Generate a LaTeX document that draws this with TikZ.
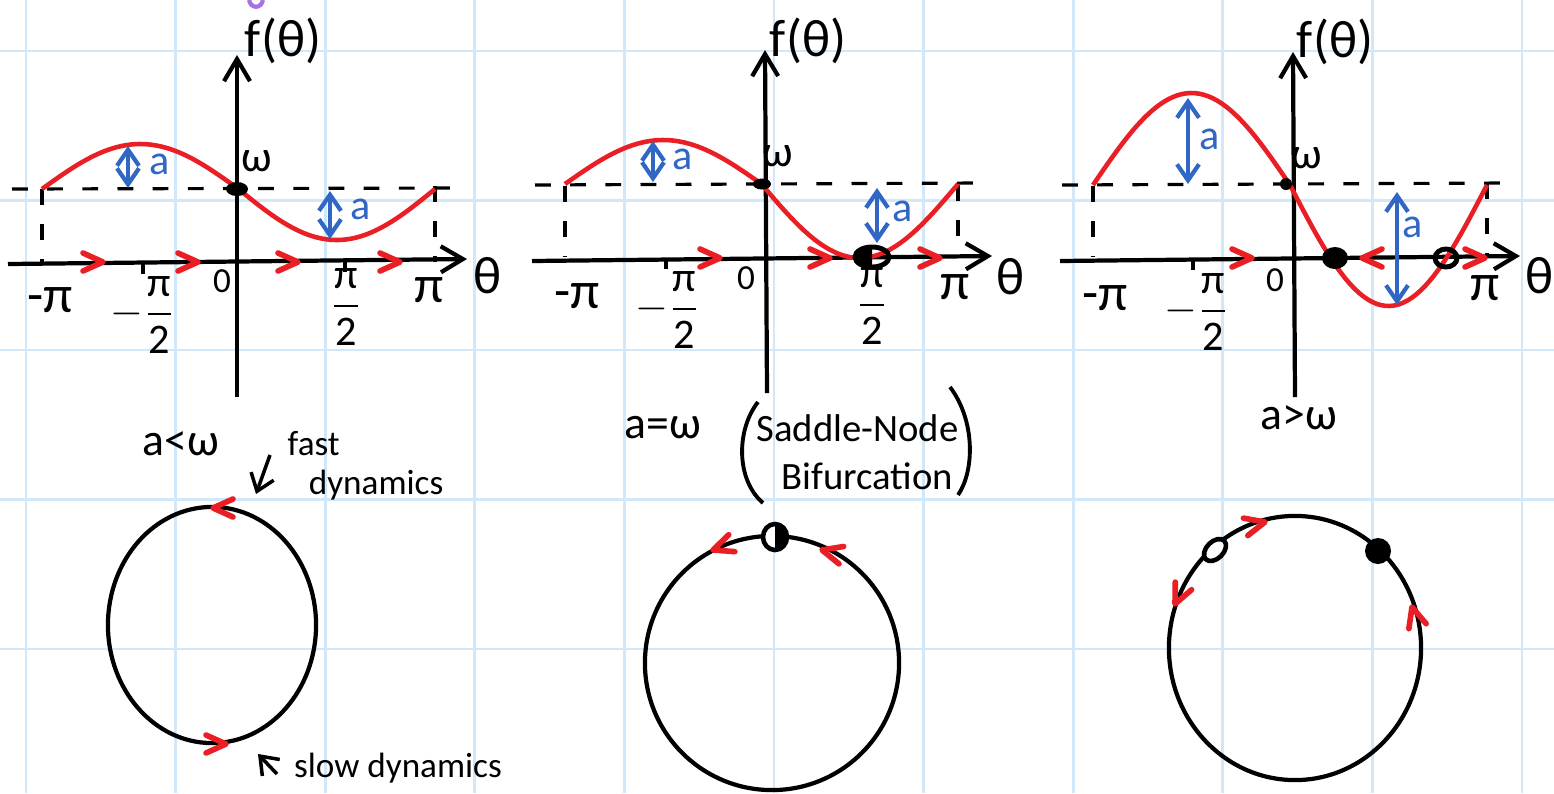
\documentclass[tikz,border=0pt]{standalone}
\usepackage{amsmath}
\usepackage{fontspec}
\setmainfont{Carlito}
\usetikzlibrary{arrows.meta}

\definecolor{inkred}{RGB}{234,30,37}
\definecolor{inkblue}{RGB}{48,102,196}
\definecolor{gridblue}{RGB}{208,232,250}
\definecolor{inkpurple}{RGB}{168,112,228}

\tikzset{
  chev/.pic={\draw[inkred, line width=1.6pt, line cap=round, line join=round]
    (-20,-9) -- (0,0) -- (-20,9);}
}

\begin{document}
\begin{tikzpicture}[x=0.01cm, y=-0.01cm,
    ax/.style={line width=1.2pt, -{Straight Barb[length=2.2mm, width=2.6mm]}},
    guide/.style={line width=0.9pt, dash pattern=on 4.5pt off 5.5pt},
    fcurve/.style={inkred, line width=1.3pt, line join=round},
    amp/.style={inkblue, line width=1.2pt,
      {Straight Barb[length=1.6mm, width=2.2mm]}-{Straight Barb[length=1.6mm, width=2.2mm]}},
    ampl/.style={inkblue, font=\fontsize{12}{13}\selectfont, inner sep=0pt},
    lbl/.style={font=\fontsize{15}{17}\selectfont, inner sep=0pt},
    frac/.style={font=\fontsize{12}{13}\selectfont, inner sep=0pt},
    small/.style={font=\fontsize{10}{11}\selectfont, inner sep=0pt},
    omg/.style={font=\fontsize{12.5}{13}\selectfont, inner sep=0pt},
    hand/.style={font=\fontsize{13}{15}\selectfont, inner sep=0pt},
    tick/.style={line width=1pt},
    ring/.style={line width=1.2pt},
    note/.style={line width=1pt, -{Straight Barb[length=1.6mm, width=2.4mm]}}]
  \useasboundingbox (0,0) rectangle (1554,793);
  % grid paper
  \begin{scope}
    \clip (0,0) rectangle (1554,793);
    \foreach \gx in {0,...,10}
      \draw[gridblue, line width=0.8pt] ({26+149.6*\gx},0) -- ({26+149.6*\gx},793);
    \foreach \gy in {0,...,4}
      \draw[gridblue, line width=0.8pt] (0,{51+149.5*\gy}) -- (1554,{51+149.5*\gy});
  \end{scope}
  \draw[inkpurple, line width=1.2pt] (249,0) .. controls (251,9) and (261,9) .. (263,0);

  % panel 1: a < w
  \draw[guide] (12,189) -- (453,188);
  \draw[guide] (42,189) -- (42,262);
  \draw[guide] (435,186) -- (435,262);
  \draw[ax] (8,264) -- (467,259);
  \draw[ax] (237,397) -- (237,55);
  \draw[tick] (143,264) -- (143,274);
  \draw[tick] (345,262) -- (345,272);
  \draw[fcurve] plot[domain=-180:180, samples=90]
    ({238.5+\x/180*196.5}, {189+(\x<0?45:51)*sin(\x)});
  \fill (237,189) ellipse[x radius=0.11cm, y radius=0.07cm];
  \draw[amp] (128,146) -- (128,188);
  \draw[amp] (330,191) -- (330,239);
  \node[ampl] (a1u) at (160,164) {a};
  \node[ampl] (a1d) at (361,209) {a};
  \foreach \cx in {103,198,298,400} \pic at (\cx,262) {chev};
  \node[lbl] (f1) at (283,41) {f(θ)};
  \node[omg] (w1) at (257,161) {ω};
  \node[lbl] (th1) at (488,276) {θ};
  \node[lbl] (mpi1) at (50,300) {-π};
  \node[frac] (mhp1) at (143,315) {$-\dfrac{\text{π}}{\text{2}}$};
  \node[small] (o1) at (222,281) {0};
  \node[frac] (hp1) at (346,307) {$\dfrac{\text{π}}{\text{2}}$};
  \node[lbl] (pi1) at (429,290) {π};

  % panel 2: a = w
  \draw[guide] (535,185) -- (978,183);
  \draw[guide] (565,186) -- (565,257);
  \draw[guide] (958,185) -- (958,257);
  \draw[ax] (532,261) -- (992,256);
  \draw[ax] (767,393) -- (765,50);
  \draw[tick] (666,259) -- (666,269);
  \draw[fcurve] plot[domain=-180:180, samples=90]
    ({761.5+\x/180*196.5}, {184+(\x<0?44:74)*sin(\x)});
  \fill (762,184) ellipse[x radius=0.09cm, y radius=0.055cm];
  \fill (872,247) arc[start angle=90, end angle=270, x radius=0.17cm, y radius=0.10cm] -- cycle;
  \draw[line width=1.4pt] (872,257) ellipse[x radius=0.17cm, y radius=0.10cm];
  \draw[amp] (653,141) -- (653,182);
  \draw[amp] (877,188) -- (877,243);
  \node[ampl] (a2u) at (683,159) {a};
  \node[ampl] (a2d) at (903,211) {a};
  \foreach \cx in {720,830,940} \pic at (\cx,258) {chev};
  \node[lbl] (f2) at (808,41) {f(θ)};
  \node[omg] (w2) at (778,156) {ω};
  \node[lbl] (th2) at (1011,277) {θ};
  \node[lbl] (mpi2) at (577,296) {-π};
  \node[frac] (mhp2) at (668,310) {$-\dfrac{\text{π}}{\text{2}}$};
  \node[small] (o2) at (746,278) {0};
  \node[frac] (hp2) at (872,306) {$\dfrac{\text{π}}{\text{2}}$};
  \node[lbl] (pi2) at (955,287) {π};

  % panel 3: a > w
  \draw[guide] (1062,185) -- (1505,183);
  \draw[guide] (1093,186) -- (1093,257);
  \draw[guide] (1487,183) -- (1487,257);
  \draw[ax] (1060,261) -- (1520,256);
  \draw[ax] (1295,397) -- (1293,52);
  \draw[tick] (1193,260) -- (1193,270);
  \draw[tick] (1397,258) -- (1397,268);
  \draw[fcurve] plot[domain=-180:180, samples=90]
    ({1290+\x/180*197}, {185+(\x<0?92:121)*sin(\x)});
  \fill (1286,184) circle[radius=0.06cm];
  \fill (1335,258) ellipse[x radius=0.13cm, y radius=0.11cm];
  \draw[line width=1.4pt] (1446,258) ellipse[x radius=0.11cm, y radius=0.09cm];
  \draw[amp] (1188,98) -- (1188,184);
  \draw[amp] (1397,192) -- (1397,305);
  \node[ampl] (a3u) at (1210,139) {a};
  \node[ampl] (a3d) at (1413,227) {a};
  \pic at (1252,258) {chev};
  \pic[rotate=180] at (1362,258) {chev};
  \pic at (1485,258) {chev};
  \node[lbl] (f3) at (1335,42) {f(θ)};
  \node[omg] (w3) at (1307,158) {ω};
  \node[lbl] (th3) at (1540,276) {θ};
  \node[lbl] (mpi3) at (1105,298) {-π};
  \node[frac] (mhp3) at (1197,312) {$-\dfrac{\text{π}}{\text{2}}$};
  \node[small] (o3) at (1275,280) {0};
  \node[lbl] (pi3) at (1485,288) {π};

  % phase circles
  \node[hand] (lt) at (181,444) {a<ω};
  \node[small, align=left, anchor=north west] (fast) at (287,431) {fast\\\hspace{6pt}dynamics};
  \coordinate (fastfrom) at (270,455);
  \coordinate (fastto) at (256,494);
  \draw[note] (fastfrom) -- (fastto);
  \draw[ring] (212,625) ellipse[x radius=1.04cm, y radius=1.18cm];
  \pic[rotate=180] at (213,508) {chev};
  \pic at (226,744) {chev};
  \node[small] (slow) at (398,768) {slow dynamics};
  \coordinate (slowfrom) at (277,774);
  \coordinate (slowto) at (258,754);
  \draw[note] (slowfrom) -- (slowto);

  \node[hand] (eq) at (663,428) {a=ω};
  \node[font=\fontsize{11}{13.5}\selectfont, inner sep=0pt, align=left, anchor=west]
    (snb) at (756,452) {Saddle-Node\\\hspace{7pt}Bifurcation};
  \draw[line width=1.1pt] (758,402) .. controls (736,430) and (736,480) .. (763,503);
  \draw[line width=1.1pt] (950,387) .. controls (975,420) and (975,470) .. (958,495);
  \draw[ring] (772,663) circle[radius=1.27cm];
  \pic[rotate=200] at (713,550) {chev};
  \pic[rotate=165] at (822,550) {chev};
  \fill[white] (775,537) ellipse[x radius=0.12cm, y radius=0.13cm];
  \fill (775,524) arc[start angle=90, end angle=-90, x radius=0.12cm, y radius=0.13cm] -- cycle;
  \draw[line width=1.3pt] (775,537) ellipse[x radius=0.12cm, y radius=0.13cm];

  \node[hand] (gt) at (1299,418) {a>ω};
  \draw[ring] (1295,648) ellipse[x radius=1.26cm, y radius=1.32cm];
  \pic[rotate=14] at (1265,522) {chev};
  \pic[rotate=245] at (1175,604) {chev};
  \pic[rotate=106] at (1412,607) {chev};
  \filldraw[fill=white, line width=1.3pt, rotate around={45:(1215,550)}]
    (1215,550) ellipse[x radius=0.13cm, y radius=0.085cm];
  \fill (1378,551) circle[radius=0.13cm];
\end{tikzpicture}
\end{document}
